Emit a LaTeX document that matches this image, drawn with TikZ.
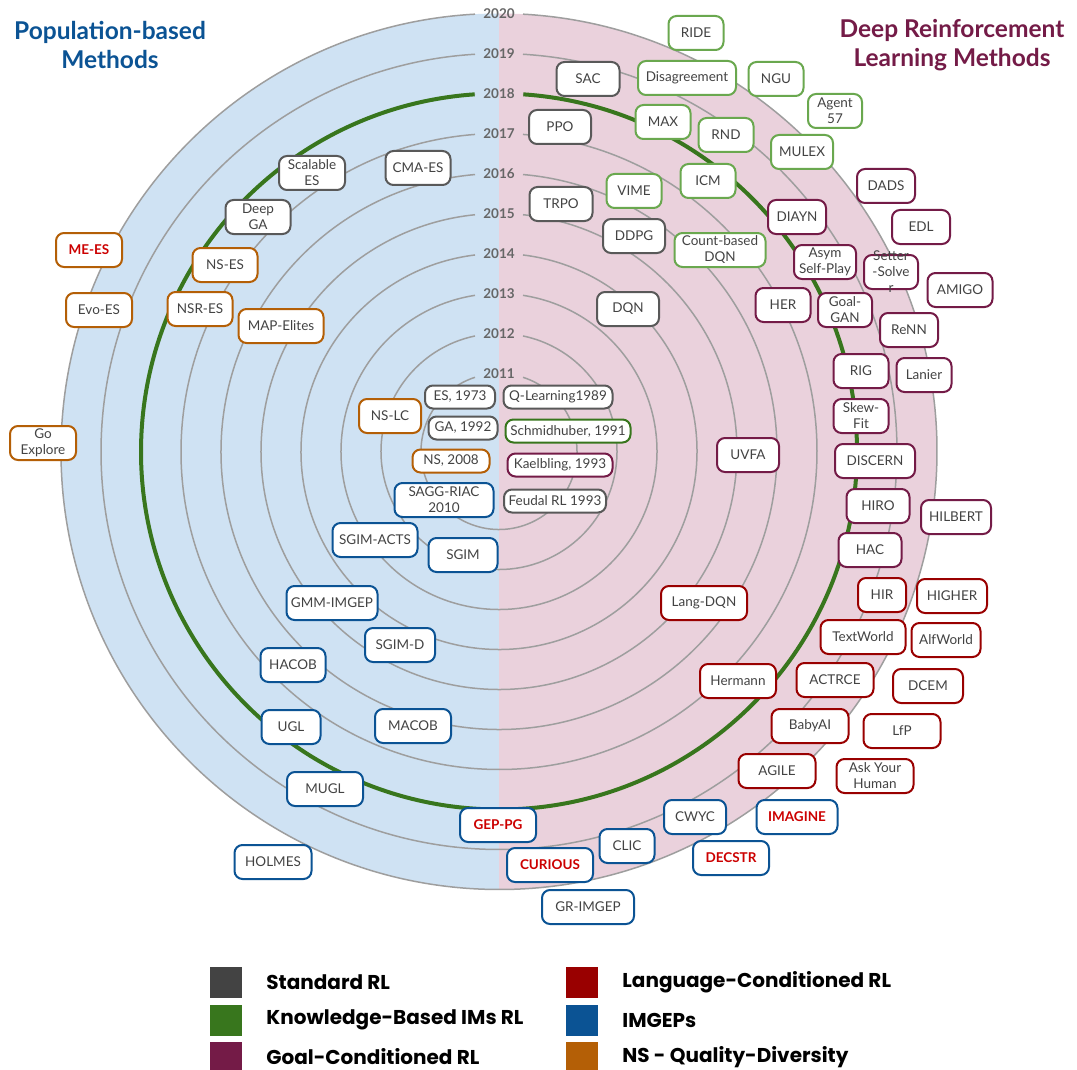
\documentclass[tikz,border=0pt]{standalone}
\usepackage{fontspec}
\setmainfont{Lato}
\newfontfamily\legendfont{Poppins}
\usetikzlibrary{positioning}

\definecolor{leftbg}{HTML}{CFE2F3}
\definecolor{rightbg}{HTML}{EAD1DC}
\definecolor{ringgray}{HTML}{9E9E9E}
\definecolor{yeargray}{HTML}{666666}
\definecolor{txtgray}{HTML}{434343}
\definecolor{stdgray}{HTML}{595959}
\definecolor{leggray}{HTML}{434343}
\definecolor{kbgreen}{HTML}{38761D}
\definecolor{kblight}{HTML}{6AA84F}
\definecolor{gcpurple}{HTML}{741B47}
\definecolor{lcred}{HTML}{990000}
\definecolor{imblue}{HTML}{0B5394}
\definecolor{nsorange}{HTML}{B45F06}
\definecolor{hlred}{HTML}{CC0000}

\tikzset{
  ring/.style={draw=ringgray, line width=1.5pt},
  yearlbl/.style={font=\fontsize{13.5}{15}\selectfont\bfseries, text=yeargray, inner sep=0pt},
  method/.style={draw, fill=white, rounded corners=8pt, line width=2pt, minimum height=34pt,
    inner xsep=4pt, inner ysep=1pt, align=center, text=txtgray, font=\fontsize{13.5}{16}\selectfont},
  oldbox/.style={minimum height=23pt},
  wd/.style={minimum width=#1pt-2pt},
  stdbox/.style={method, draw=stdgray},
  kbbox/.style={method, draw=kblight},
  gcbox/.style={method, draw=gcpurple},
  lcbox/.style={method, draw=lcred},
  imbox/.style={method, draw=imblue},
  nsbox/.style={method, draw=nsorange},
  hl/.style={text=hlred, font=\fontsize{13.5}{16}\selectfont\bfseries},
  legsq/.style={minimum width=32pt, minimum height=31pt, inner sep=0pt},
  legtxt/.style={font=\legendfont\fontsize{20}{22}\selectfont\bfseries, inner sep=0pt},
  headline/.style={font=\fontsize{24.5}{29}\selectfont\bfseries, align=center}
}

\begin{document}
\begin{tikzpicture}[x=1pt, y=-1pt]
  \useasboundingbox (0,0) rectangle (1077,1070);
  \fill[white] (0,0) rectangle (1077,1070);

  % two half discs
  \fill[leftbg] (499,451.5) -- (499,13.5) arc[start angle=270, end angle=90, radius=438] -- cycle;
  \fill[rightbg] (499,451.5) -- (499,13.5) arc[start angle=270, end angle=450, radius=438] -- cycle;

  % year rings, open at the top for the labels
  \foreach \k in {0,...,9}{
    \pgfmathsetmacro\r{78+40*\k}
    \pgfmathsetmacro\d{asin(24/\r)}
    \draw[ring] (499,451.5) ++(270+\d:\r) arc[start angle=270+\d, end angle=630-\d, radius=\r];
  }
  \draw[kbgreen, line width=4pt] (499,451.5) ++(273.9:358) arc[start angle=273.9, end angle=626.1, radius=358];
  \foreach \k in {0,...,9}{
    \pgfmathtruncatemacro\yr{2011+\k}
    \node[yearlbl] (yr\yr) at (499,{451.5-78-40*\k}) {\yr};
  }

  \node[headline, text=imblue] (popt) at (110,44.5) {Population-based\\Methods};
  \node[headline, text=gcpurple] (drlt) at (952,45.5) {Deep Reinforcement\\Learning Methods};

  % population-based side
  \node[stdbox, wd=68] (scalablees) at (312,173) {Scalable\\ES};
  \node[stdbox, wd=67] (cmaes) at (418,168) {CMA-ES};
  \node[stdbox, wd=67] (deepga) at (258,217) {Deep\\GA};
  \node[nsbox, wd=68, hl] (mees) at (89,250) {ME-ES};
  \node[nsbox, wd=67] (nses) at (225,265) {NS-ES};
  \node[nsbox, wd=68] (evoes) at (99,310) {Evo-ES};
  \node[nsbox, wd=67] (nsres) at (200,309) {NSR-ES};
  \node[nsbox, wd=87] (mapelites) at (281,326) {MAP-Elites};
  \node[nsbox, wd=68] (goexplore) at (43,443) {Go\\Explore};
  \node[nsbox, wd=64] (nslc) at (390,416) {NS-LC};
  \node[stdbox, oldbox, wd=72] (es) at (460,397) {ES, 1973};
  \node[stdbox, oldbox, wd=71] (ga) at (463,428) {GA, 1992};
  \node[nsbox, oldbox, wd=79] (ns) at (451,461) {NS, 2008};
  \node[imbox, wd=101] (saggriac) at (444,500) {SAGG-RIAC\\2010};
  \node[imbox, wd=87] (sgimacts) at (375,540) {SGIM-ACTS};
  \node[imbox, wd=71] (sgim) at (463,555) {SGIM};
  \node[imbox, wd=93] (gmmimgep) at (332,603) {GMM-IMGEP};
  \node[imbox, wd=72] (sgimd) at (400,645) {SGIM-D};
  \node[imbox, wd=67] (hacob) at (293,665) {HACOB};
  \node[imbox, wd=61] (ugl) at (291,727) {UGL};
  \node[imbox, wd=78] (macob) at (413,726) {MACOB};
  \node[imbox, wd=78] (mugl) at (325,789) {MUGL};
  \node[imbox, wd=78, hl] (geppg) at (498,825) {GEP-PG};
  \node[imbox, wd=79] (holmes) at (273,862) {HOLMES};
  \node[imbox, wd=88, hl] (curious) at (550,865) {CURIOUS};
  \node[imbox, wd=94] (grimgep) at (588,907) {GR-IMGEP};
  \node[imbox, wd=57] (clic) at (627,846) {CLIC};

  % deep RL side
  \node[kbbox, wd=57] (ride) at (696,33) {RIDE};
  \node[stdbox, wd=65] (sac) at (588,79) {SAC};
  \node[kbbox, wd=100] (disagreement) at (687,78) {Disagreement};
  \node[kbbox, wd=57] (ngu) at (776,79) {NGU};
  \node[kbbox, wd=56] (agent57) at (835,111) {Agent\\57};
  \node[stdbox, wd=64] (ppo) at (560,127) {PPO};
  \node[kbbox, wd=57] (max) at (663,122) {MAX};
  \node[kbbox, wd=57] (rnd) at (726,135) {RND};
  \node[kbbox, wd=64] (mulex) at (802,152) {MULEX};
  \node[kbbox, wd=57] (icm) at (708,181) {ICM};
  \node[kbbox, wd=57] (vime) at (634,191) {VIME};
  \node[stdbox, wd=65] (trpo) at (561,204) {TRPO};
  \node[stdbox, wd=64] (ddpg) at (634,236) {DDPG};
  \node[kbbox, wd=93] (countdqn) at (720,250) {Count-based\\DQN};
  \node[stdbox, wd=64] (dqn) at (628,309) {DQN};
  \node[gcbox, wd=60] (dads) at (886,186) {DADS};
  \node[gcbox, wd=60] (diayn) at (797,217) {DIAYN};
  \node[gcbox, wd=60] (edl) at (921,227) {EDL};
  \node[gcbox, wd=64] (asym) at (825,262) {Asym\\Self-Play};
  \node[gcbox, wd=56] (setter) at (891,272) {};
  \node[text=txtgray, font=\fontsize{13.5}{16}\selectfont, align=center, inner sep=0pt] (settertext) at (setter) {Setter\\-Solve\\r};
  \node[gcbox, wd=67] (amigo) at (960,290) {AMIGO};
  \node[gcbox, wd=57] (her) at (783,305) {HER};
  \node[gcbox, wd=56] (goalgan) at (845,310) {Goal-\\GAN};
  \node[gcbox, wd=60] (renn) at (909,330) {ReNN};
  \node[gcbox, wd=57] (rig) at (861,371) {RIG};
  \node[gcbox, wd=57] (lanier) at (924,375) {Lanier};
  \node[gcbox, wd=57] (skewfit) at (861,416) {Skew-\\Fit};
  \node[gcbox, wd=82] (discern) at (875,461) {DISCERN};
  \node[gcbox, wd=64] (uvfa) at (748,455) {UVFA};
  \node[stdbox, oldbox, wd=111] (qlearning) at (558,397) {Q-Learning1989};
  \node[method, draw=kbgreen, oldbox, wd=127] (schmidhuber) at (568,431) {Schmidhuber, 1991};
  \node[gcbox, oldbox, wd=107] (kaelbling) at (560,465) {Kaelbling, 1993};
  \node[stdbox, oldbox, wd=104] (feudal) at (555,501) {Feudal RL 1993};
  \node[gcbox, wd=65] (hiro) at (878,506) {HIRO};
  \node[gcbox, wd=72] (hilbert) at (956,517) {HILBERT};
  \node[gcbox, wd=65] (hac) at (870,550) {HAC};
  \node[lcbox, wd=50] (hir) at (882,595) {HIR};
  \node[lcbox, wd=72] (higher) at (952,596) {HIGHER};
  \node[lcbox, wd=88] (langdqn) at (704,603) {Lang-DQN};
  \node[lcbox, wd=87] (textworld) at (863,637) {TextWorld};
  \node[lcbox, wd=71] (alfworld) at (946,640) {AlfWorld};
  \node[lcbox, wd=78] (hermann) at (738,681) {Hermann};
  \node[lcbox, wd=79] (actrce) at (835,680) {ACTRCE};
  \node[lcbox, wd=72] (dcem) at (928,686) {DCEM};
  \node[lcbox, wd=79] (babyai) at (810,726) {BabyAI};
  \node[lcbox, wd=79] (lfp) at (902,731) {LfP};
  \node[lcbox, wd=79] (agile) at (777,771) {AGILE};
  \node[lcbox, wd=79] (askhuman) at (875,776) {Ask Your\\Human};
  \node[imbox, wd=64] (cwyc) at (695,817) {CWYC};
  \node[imbox, wd=83, hl] (imagine) at (797,817) {IMAGINE};
  \node[imbox, wd=78, hl] (decstr) at (731,858) {DECSTR};

  % legend
  \node[legsq, fill=leggray] (lstd) at (226,982) {};
  \node[legtxt, right=24pt of lstd] (lstdt) {Standard RL};
  \node[legsq, fill=kbgreen] (lkb) at (226,1020) {};
  \node[legtxt, right=24pt of lkb] (lkbt) {Knowledge-Based IMs RL};
  \node[legsq, fill=gcpurple] (lgc) at (226,1057) {};
  \node[legtxt, right=24pt of lgc] (lgct) {Goal-Conditioned RL};
  \node[legsq, fill=lcred] (llc) at (582,982) {};
  \node[legtxt, right=24pt of llc] (llct) {Language-Conditioned RL};
  \node[legsq, fill=imblue] (lim) at (582,1020) {};
  \node[legtxt, right=24pt of lim] (limt) {IMGEPs};
  \node[legsq, fill=nsorange] (lns) at (582,1057) {};
  \node[legtxt, right=24pt of lns] (lnst) {NS - Quality-Diversity};
\end{tikzpicture}
\end{document}
